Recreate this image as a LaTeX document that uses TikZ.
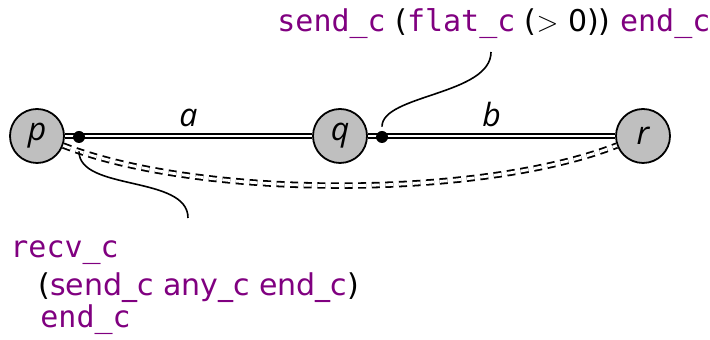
\documentclass[tikz,border=0pt]{standalone}
\usepackage{fontspec}
\setmainfont{DejaVu Sans}
\setmonofont{DejaVu Sans Mono}
\newfontfamily\lblfont{Open Sans}
\definecolor{kwc}{RGB}{128,0,128}
\newcommand{\kw}[1]{\textcolor{kwc}{\texttt{#1}}}
\newcommand{\kwp}[1]{\textcolor{kwc}{#1}}
\begin{document}
\begin{tikzpicture}[x=0.5pt,y=-0.5pt,
  state/.style={circle,draw,fill=black!25,line width=0.9pt,minimum size=27pt,inner sep=0pt,font=\lblfont\itshape\fontsize{16}{16}\selectfont},
  chan/.style={double,line width=0.9pt,double distance=1.4pt},
  dchan/.style={chan,dashed,dash pattern=on 4pt off 2.8pt},
  dotnode/.style={circle,fill,inner sep=0pt,minimum size=6pt},
  lbl/.style={font=\lblfont\itshape\fontsize{16}{16}\selectfont},
  txt/.style={inner sep=0pt,anchor=base west,font=\fontsize{15}{18}\selectfont},
  callout/.style={line width=0.8pt}]
\useasboundingbox (0,0) rectangle (710,340);
\node[state] (p) at (37,136) {p};
\node[state] (q) at (340,136) {q};
\node[state] (r) at (643,136) {r};
\draw[chan] (p) -- (q) node[lbl,midway,above=1pt] (la) {a};
\draw[chan] (q) -- (r) node[lbl,midway,above=1pt] (lb) {b};
\draw[dchan] (p.-20) .. controls (200,199) and (480,199) .. (r.-160);
\node[dotnode] (dp) at (79,137) {};
\node[dotnode] (dq) at (382,137) {};
\node[txt] (top) at (277,32) {\kw{send\_c} (\kw{flat\_c} ($>$ 0)) \kw{end\_c}};
\node[txt] (l1) at (10,258) {\kw{recv\_c}};
\node[txt] (l2) at (38,296) {(\kwp{send\_c any\_c end\_c})};
\node[txt] (l3) at (40,328) {\kw{end\_c}};
\coordinate (ct) at (491,52);
\coordinate (cb) at (188,218);
\draw[callout] (dq.north) ++(0,-4) .. controls +(0,-32) and +(0,43) .. (ct);
\draw[callout] (dp.south) ++(0,8) .. controls +(0,40) and +(0,-43) .. (cb);
\end{tikzpicture}
\end{document}
